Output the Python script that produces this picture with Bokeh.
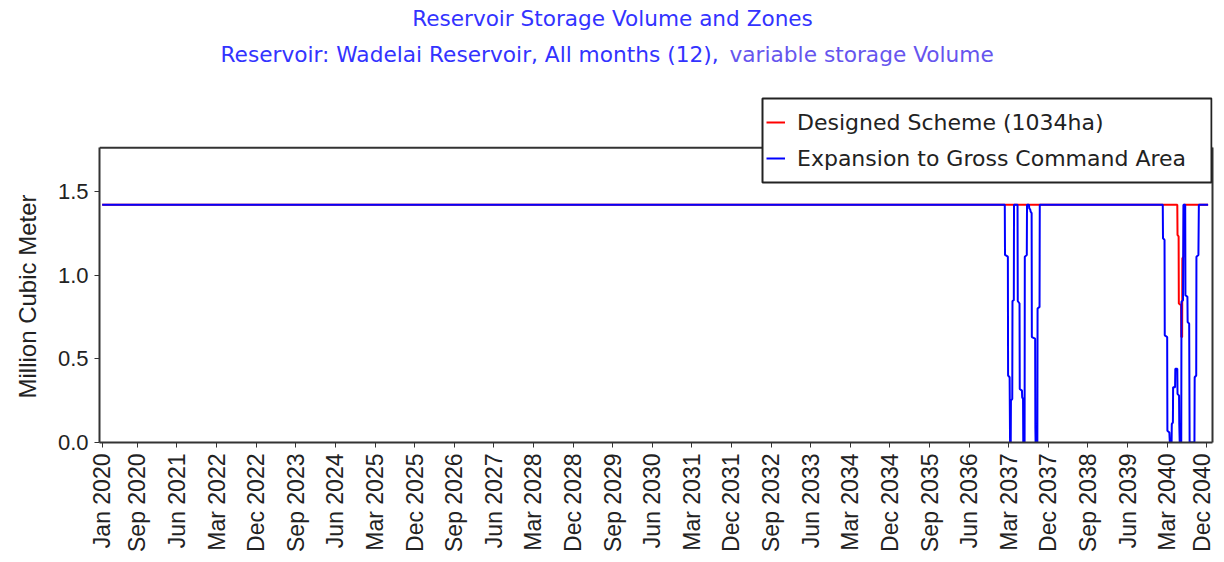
import math
from bokeh.plotting import figure
from bokeh.models import (Range1d, FixedTicker, LinearAxis, Legend, LegendItem,
                          Label, ColumnDataSource, NumeralTickFormatter, Span,
                          BoxAnnotation, Title)
from bokeh.embed import file_html
from bokeh.resources import INLINE

# ---------------- data ----------------
title_text = "Reservoir Storage Volume and Zones"
subtitle_part1 = "Reservoir: Wadelai Reservoir,  All months (12),"
subtitle_part2 = "variable storage Volume"
y_label = "Million Cubic Meter"
series_names = ["Designed Scheme (1034ha)", "Expansion to Gross Command Area"]

# x positions are month indices counted from Jan 2020 (= 0)
tick_months = [0, 8, 17, 26, 35, 44, 53, 62, 71, 80, 89, 98, 107, 116, 125,
               134, 143, 152, 161, 170, 179, 188, 197, 206, 215, 224, 233, 242, 251]
tick_labels = ["Jan 2020", "Sep 2020", "Jun 2021", "Mar 2022", "Dec 2022",
               "Sep 2023", "Jun 2024", "Mar 2025", "Dec 2025", "Sep 2026",
               "Jun 2027", "Mar 2028", "Dec 2028", "Sep 2029", "Jun 2030",
               "Mar 2031", "Dec 2031", "Sep 2032", "Jun 2033", "Mar 2034",
               "Dec 2034", "Sep 2035", "Jun 2036", "Mar 2037", "Dec 2037",
               "Sep 2038", "Jun 2039", "Mar 2040", "Dec 2040"]
y_ticks = [0.0, 0.5, 1.0, 1.5]
y_axis_top = 1.76   # top of the drawn plot box

# Designed Scheme (1034ha)
designed_t = [0, 244.3, 244.35, 244.6, 244.65, 245.15, 245.2, 245.4, 245.45,
              245.75, 245.8, 251.3]
designed_v = [1.42, 1.42, 1.24, 1.23, 0.83, 0.82, 0.63, 0.63, 1.10,
              1.11, 1.42, 1.42]

# Expansion to Gross Command Area
expansion_t = [0,
               205.1, 205.15, 205.8, 205.85, 206.2, 206.3,
               206.45, 206.5, 206.8, 206.85, 207.15, 207.2,
               208.0, 208.05, 208.45, 208.5, 209.0, 209.05, 209.25, 209.3,
               209.6, 209.65, 210.1, 210.15,
               210.6, 210.65, 210.9, 210.95, 211.2, 211.25, 212.0, 212.05, 212.1,
               212.5, 212.55, 213.0, 213.05,
               241.0, 241.05, 241.4, 241.45, 242.0, 242.05, 242.5, 242.6,
               243.0, 243.05, 243.3, 243.35, 243.8, 243.85, 244.3, 244.35,
               244.7, 244.75, 244.85,
               245.2, 245.25, 245.6, 245.7,
               246.1, 246.15, 246.6, 246.65, 247.0, 247.1,
               248.2, 248.25, 248.6, 248.65, 249.1, 249.2,
               251.3]
expansion_v = [1.42,
               1.42, 1.12, 1.11, 0.40, 0.39, 0.0,
               0.0, 0.25, 0.26, 0.845, 0.85, 1.42,
               1.42, 0.845, 0.83, 0.32, 0.31, 0.27, 0.26, 0.0,
               0.0, 1.11, 1.12, 1.42,
               1.42, 1.40, 1.39, 1.38, 1.37, 0.63, 0.62, 0.09, 0.0,
               0.0, 0.80, 0.81, 1.42,
               1.42, 1.22, 1.21, 0.64, 0.63, 0.07, 0.06, 0.0,
               0.0, 0.11, 0.12, 0.33, 0.33, 0.44, 0.44, 0.29,
               0.28, 0.11, 0.0,
               0.0, 0.84, 0.85, 1.42,
               1.42, 0.88, 0.87, 0.72, 0.71, 0.0,
               0.0, 0.39, 0.40, 1.11, 1.12, 1.42,
               1.42]

# ---------------- figure ----------------
AX = "#333333"
FL, FB = 99, 444          # frame left / bottom in figure pixels
p = figure(width=1214, height=554, output_backend="svg", toolbar_location=None,
           x_range=Range1d(-0.61, 252.3), y_range=Range1d(0, 2.64),
           min_border_left=FL, min_border_right=2, min_border_top=0,
           min_border_bottom=110)
p.xgrid.visible = False
p.ygrid.visible = False
p.outline_line_color = None
p.background_fill_color = "white"
p.border_fill_color = "white"

src_d = ColumnDataSource(dict(t=designed_t, v=designed_v))
src_e = ColumnDataSource(dict(t=expansion_t, v=expansion_v))
r_d = p.line("t", "v", source=src_d, line_color="#ff0000", line_width=2)
r_e = p.line("t", "v", source=src_e, line_color="#0000ff", line_width=2)

# bottom axis
xa = p.xaxis[0]
xa.ticker = FixedTicker(ticks=tick_months)
xa.major_label_overrides = {m: lab for m, lab in zip(tick_months, tick_labels)}
xa.major_label_orientation = math.pi / 2
xa.minor_tick_line_color = None
xa.major_tick_in = 0
xa.major_tick_out = 5
xa.major_label_standoff = 6
xa.major_label_text_font = "Liberation Sans"
xa.major_label_text_font_size = "23px"
xa.major_label_text_color = "#222222"
xa.axis_line_color = AX
xa.axis_line_width = 2
xa.major_tick_line_color = AX

# left axis
ya = p.yaxis[0]
ya.ticker = FixedTicker(ticks=y_ticks)
ya.formatter = NumeralTickFormatter(format="0.0")
ya.bounds = (0, y_axis_top)
ya.minor_tick_line_color = None
ya.major_tick_in = 0
ya.major_tick_out = 5
ya.major_label_standoff = 6
ya.major_label_text_font = "Liberation Sans"
ya.major_label_text_font_size = "22px"
ya.major_label_text_color = "#222222"
ya.axis_line_color = AX
ya.axis_line_width = 2
ya.major_tick_line_color = AX

# y axis title placed along the drawn plot box
p.add_layout(Title(text=y_label, align="left", vertical_align="top", offset=44,
                   text_font="Liberation Sans", text_font_size="24px",
                   text_font_style="normal", text_color="#222222",
                   standoff=24), "left")

# right border of the plot box
ra = LinearAxis(ticker=FixedTicker(ticks=[]), bounds=(0, y_axis_top),
                major_tick_line_color=None, minor_tick_line_color=None,
                major_label_standoff=0, axis_line_color=AX, axis_line_width=2)
p.add_layout(ra, "right")

# top border of the plot box
p.add_layout(Span(location=y_axis_top, dimension="width",
                  line_color=AX, line_width=2))

# legend box (white, bordered), overlapping the plot box top like the original
p.add_layout(BoxAnnotation(left=762 - FL, right=1211 - FL,
                           top=FB - 100, bottom=FB - 184,
                           left_units="screen", right_units="screen",
                           top_units="screen", bottom_units="screen",
                           fill_color="white", fill_alpha=1.0,
                           line_color="#222222", line_width=2, line_alpha=1.0))

legend = Legend(items=[LegendItem(label=series_names[0], renderers=[r_d]),
                       LegendItem(label=series_names[1], renderers=[r_e])],
                location=(766 - FL, FB - 175), orientation="vertical",
                label_text_font="DejaVu Sans", label_text_font_size="22px",
                label_text_color="#222222",
                glyph_width=19, glyph_height=30, label_height=30,
                label_standoff=12, spacing=6, padding=0, margin=0,
                border_line_color=None, background_fill_alpha=0.0)
p.add_layout(legend, "center")

# titles
p.add_layout(Label(x=612 - FL, y=FB - 20, x_units="screen", y_units="screen",
                   text=title_text, text_align="center", text_baseline="middle",
                   text_font="DejaVu Sans", text_font_size="21.6px",
                   text_color="#3333ff"))
p.add_layout(Label(x=725 - FL, y=FB - 56, x_units="screen", y_units="screen",
                   text=subtitle_part1, text_align="right", text_baseline="middle",
                   text_font="DejaVu Sans", text_font_size="21.7px",
                   text_color="#3333ff"))
p.add_layout(Label(x=729 - FL, y=FB - 56, x_units="screen", y_units="screen",
                   text=subtitle_part2, text_align="left", text_baseline="middle",
                   text_font="DejaVu Sans", text_font_size="21.7px",
                   text_color="#6655ee"))

open("out.html", "w").write(file_html(p, INLINE))
